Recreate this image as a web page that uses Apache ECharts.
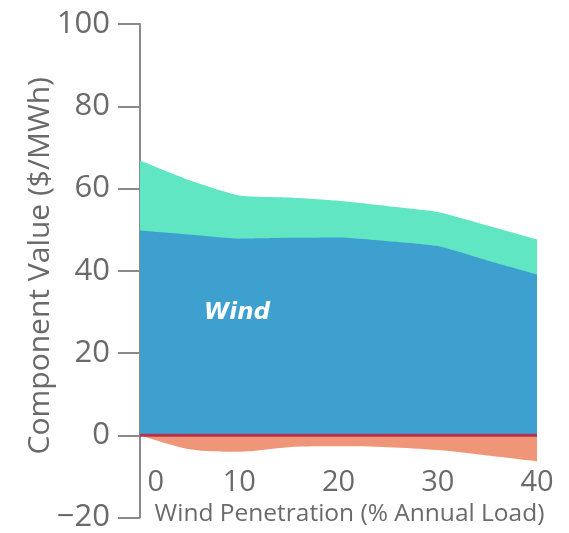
<!DOCTYPE html>
<html><head><meta charset="utf-8">
<script src="https://cdn.jsdelivr.net/npm/echarts@6/dist/echarts.min.js"></script>
<style>html,body{margin:0;padding:0;background:#fff;}#c{width:569px;height:533px;}</style>
</head><body><div id="c"></div>
<script>
const penetration = [0, 5, 10, 15, 20, 25, 30, 35, 40];
const windValue   = [49.8, 48.8, 47.8, 48.0, 48.1, 47.2, 46.0, 42.5, 39.1];
const totalValue  = [66.8, 62.0, 58.3, 57.8, 57.0, 55.7, 54.3, 51.0, 47.6];
const redValue    = [0, 0, 0, 0, 0, 0, 0, 0, 0];
const lowValue    = [0, -3.4, -4.0, -2.9, -2.7, -2.9, -3.6, -4.9, -6.3];
const xTicks = [0, 10, 20, 30, 40];
const yTicks = [-20, 0, 20, 40, 60, 80, 100];

const pair = (vals) => penetration.map((x, i) => [x, vals[i]]);
const grey = '#6a6a6a';
const chart = echarts.init(document.getElementById('c'));
chart.setOption({
  animation: false,
  grid: {left: 140, right: 32, top: 24, bottom: 14},
  xAxis: {
    type: 'value', min: 0, max: 40, interval: 10, offset: -52,
    axisLine: {show: false}, axisTick: {show: false}, splitLine: {show: false},
    axisLabel: {fontFamily: 'Open Sans', fontSize: 29, color: grey, margin: 3,
      alignMinLabel: 'left', alignMaxLabel: 'center',
      formatter: v => xTicks.includes(v) ? (v === 0 ? '\u00a00' : String(v)) : ''},
    name: 'Wind Penetration (% Annual Load)', nameLocation: 'middle', nameGap: 36,
    nameMoveOverlap: false,
    nameTextStyle: {fontFamily: 'Open Sans', fontSize: 24.5, color: grey, padding: [0, 0, 0, 22]}
  },
  yAxis: {
    type: 'value', min: -20, max: 100, interval: 20,
    axisLine: {show: true, lineStyle: {color: '#8a8a8a', width: 2}},
    axisTick: {show: true, length: 22, lineStyle: {color: '#8a8a8a', width: 2}},
    splitLine: {show: false},
    axisLabel: {fontFamily: 'Open Sans', fontSize: 31, color: grey, margin: 30,
      formatter: v => yTicks.includes(v) ? (v < 0 ? '\u2212' + Math.abs(v) : String(v)) : ''},
    name: 'Component Value ($/MWh)', nameLocation: 'middle', nameGap: 85,
    nameMoveOverlap: false,
    nameTextStyle: {fontFamily: 'Open Sans', fontSize: 30, color: grey, padding: [0, 0, 0, 10]}
  },
  series: [
    {type: 'line', data: pair(totalValue), symbol: 'none', smooth: 0.2,
     lineStyle: {width: 0}, areaStyle: {color: '#60e6c3', opacity: 1}},
    {type: 'line', data: pair(windValue), symbol: 'none', smooth: 0.2,
     lineStyle: {width: 0}, areaStyle: {color: '#3ea0cf', opacity: 1}},
    {type: 'line', data: pair(lowValue), symbol: 'none', smooth: 0.3,
     lineStyle: {width: 0}, areaStyle: {color: '#ef9678', opacity: 1}},
    {type: 'line', data: pair(redValue), symbol: 'none',
     lineStyle: {width: 3, color: '#b5324e'}}
  ],
  graphic: [{type: 'text', left: 204, top: 302, z: 100,
    style: {text: 'Wind', fill: '#ffffff', fontFamily: 'DejaVu Sans', fontSize: 23,
      fontWeight: 'bold', fontStyle: 'italic'}}]
});
</script></body></html>
